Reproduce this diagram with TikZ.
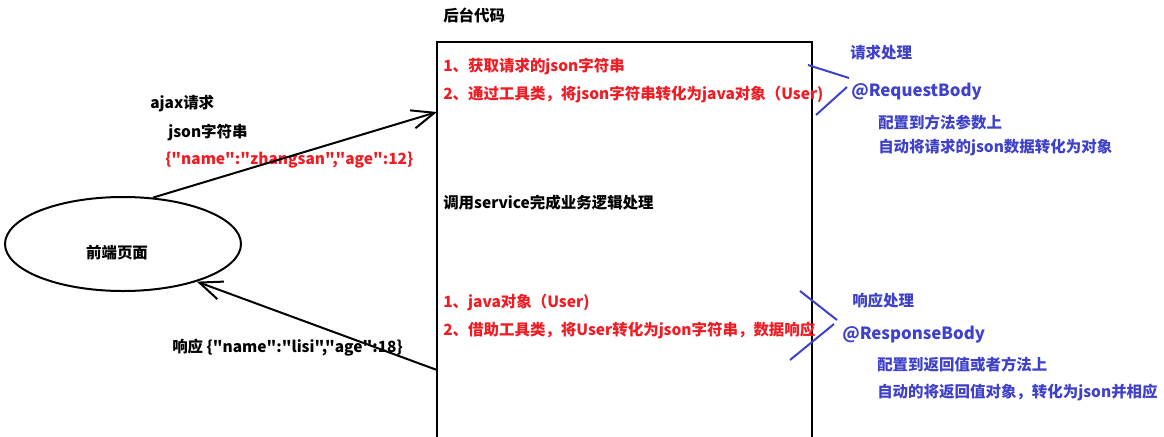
\documentclass[tikz,border=0pt]{standalone}
\usepackage{fontspec}
\setmainfont{Noto Sans CJK SC}[Ligatures=TeXOff]
\usetikzlibrary{positioning,shapes.geometric,arrows.meta}
\definecolor{jsonred}{RGB}{240,28,36}
\definecolor{notesblue}{RGB}{63,66,200}

\begin{document}
\begin{tikzpicture}[x=0.75pt, y=-0.75pt]
\tikzset{
  pageshape/.style={ellipse, draw=black, line width=1.5pt, minimum width=177pt, minimum height=70.5pt, inner sep=0pt},
  backbox/.style={rectangle, draw=black, line width=1.8pt, minimum width=281.25pt, minimum height=328.5pt, inner sep=0pt},
  txt/.style={anchor=west, inner sep=0pt, font=\fontsize{11.6}{14}\selectfont\bfseries},
  redtxt/.style={txt, text=jsonred},
  bluetxt/.style={txt, text=notesblue},
  anno/.style={anchor=west, inner sep=0pt, font=\fontsize{12.6}{16}\selectfont\bfseries, text=notesblue},
  fl/.style={-{Straight Barb[length=17pt,width=14pt]}, line width=1.5pt},
  bracketline/.style={draw=notesblue, line width=1.5pt}
}
\clip (0,0) rectangle (1164,436);
\fill[white] (0,0) rectangle (1164,436);
% front end
\node[pageshape] (page) at (123,244) {};
\node[txt, anchor=center] (pagelabel) at (117,253) {前端页面};
% back end box
\node[backbox] (backend) at (624.5,261) {};
\node[txt] (backtitle) at (443,15) {后台代码};
\coordinate (reqend) at (437,112);
\coordinate (respstart) at (437,370);
% request side
\node[txt] (ajax) at (150,104) {ajax请求};
\node[txt] (jsonstr) at (168,133) {json字符串};
\node[redtxt] (reqjson) at (165,160) {\{"name":"zhangsan","age":12\}};
\draw[fl] (page.57) -- (reqend);
% response side
\node[txt] (respjson) at (172,348) {响应 \{"name":"lisi","age":18\}};
\draw[fl] (respstart) -- (page.-27);
% steps inside the box
\node[redtxt] (req1) at (443,67) {1、获取请求的json字符串};
\node[redtxt] (req2) at (443,95) {2、通过工具类，将json字符串转化为java对象（User)};
\node[txt] (service) at (443,203) {调用service完成业务逻辑处理};
\node[redtxt] (resp1) at (443,303) {1、java对象（User)};
\node[redtxt] (resp2) at (443,330) {2、借助工具类，将User转化为json字符串，数据响应};
% annotations
\node[bluetxt] (reqhead) at (850,53) {请求处理};
\node[anno] (reqbody) at (851,92) {@RequestBody};
\node[bluetxt] (reqnote1) at (878,123) {配置到方法参数上};
\node[bluetxt] (reqnote2) at (878,148) {自动将请求的json数据转化为对象};
\draw[bracketline] (808,65) -- (849,78);
\draw[bracketline] (847,87) -- (816,115);
\node[bluetxt] (resphead) at (852,301) {响应处理};
\node[anno] (respbody) at (842,335) {@ResponseBody};
\node[bluetxt] (respnote1) at (877,365) {配置到返回值或者方法上};
\node[bluetxt] (respnote2) at (877,392) {自动的将返回值对象，转化为json并相应};
\draw[bracketline] (800,291) -- (837,320);
\draw[bracketline] (834,324) -- (790,360);
\end{tikzpicture}
\end{document}
